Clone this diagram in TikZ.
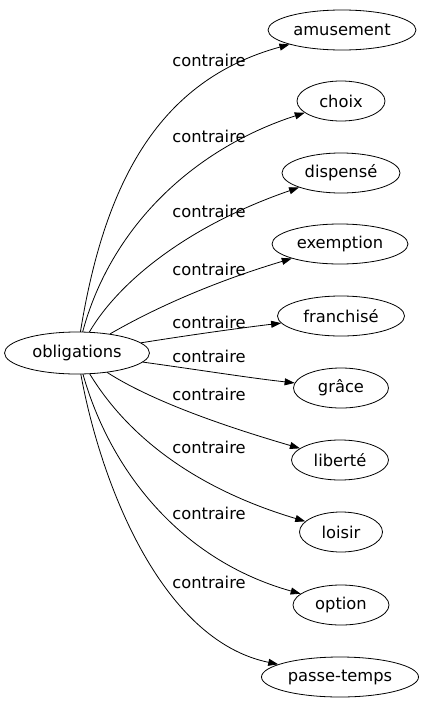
\documentclass[tikz,border=0pt]{standalone}
\usepackage{fontspec}
\setmainfont{DejaVu Sans}
\usetikzlibrary{arrows.meta,shapes.geometric}

\begin{document}
\begin{tikzpicture}[
	x=1pt, y=-1pt,
	every node/.style={font=\fontsize{16.3}{19}\selectfont},
	term/.style={draw, ellipse, inner sep=0pt, minimum height=40pt, line width=0.8pt},
	rel/.style={-{Triangle[length=10pt,width=7pt]}, line width=0.8pt},
	line cap=round,
	line join=round
	]
	
	\useasboundingbox (0,0) rectangle (424,707);
	
	% words
	\node[term, minimum width=145pt, minimum height=42pt] (oblig) at (77,353) {obligations};
	\node[term, minimum width=148pt] (amus) at (342,30) {amusement};
	\node[term, minimum width=88pt] (choix) at (341,101) {choix};
	\node[term, minimum width=118pt] (disp) at (341,173) {dispensé};
	\node[term, minimum width=136pt] (exem) at (340,244) {exemption};
	\node[term, minimum width=127pt] (fran) at (341,316) {franchisé};
	\node[term, minimum width=95pt] (grace) at (341,388) {grâce};
	\node[term, minimum width=97pt] (lib) at (340,460) {liberté};
	\node[term, minimum width=83pt] (loisir) at (341,532) {loisir};
	\node[term, minimum width=96pt] (option) at (341,605) {option};
	\node[term, minimum width=157pt] (passe) at (340,677) {passe-temps};
	
	% labels
	\node (l1) at (209,60) {contraire};
	\node (l2) at (209,136) {contraire};
	\node (l3) at (209,211) {contraire};
	\node (l4) at (209,269) {contraire};
	\node (l5) at (209,322) {contraire};
	\node (l6) at (209,356) {contraire};
	\node (l7) at (209,394) {contraire};
	\node (l8) at (209,447) {contraire};
	\node (l9) at (209,513) {contraire};
	\node (l10) at (209,582) {contraire};
	
	% edges
	\draw[rel] (oblig) .. controls (105,180) and (160,80) .. (amus);
	\draw[rel] (oblig) .. controls (110,230) and (190,150) .. (choix);
	\draw[rel] (oblig) .. controls (120,280) and (190,225) .. (disp);
	\draw[rel] (oblig) .. controls (160,305) and (220,280) .. (exem);
	\draw[rel] (oblig) .. controls (190,335) and (240,328) .. (fran);
	\draw[rel] (oblig) .. controls (200,370) and (250,378) .. (grace);
	\draw[rel] (oblig) .. controls (150,400) and (220,425) .. (lib);
	\draw[rel] (oblig) .. controls (130,440) and (200,490) .. (loisir);
	\draw[rel] (oblig) .. controls (110,470) and (180,560) .. (option);
	\draw[rel] (oblig) .. controls (100,480) and (160,640) .. (passe);
	
\end{tikzpicture}
\end{document}
